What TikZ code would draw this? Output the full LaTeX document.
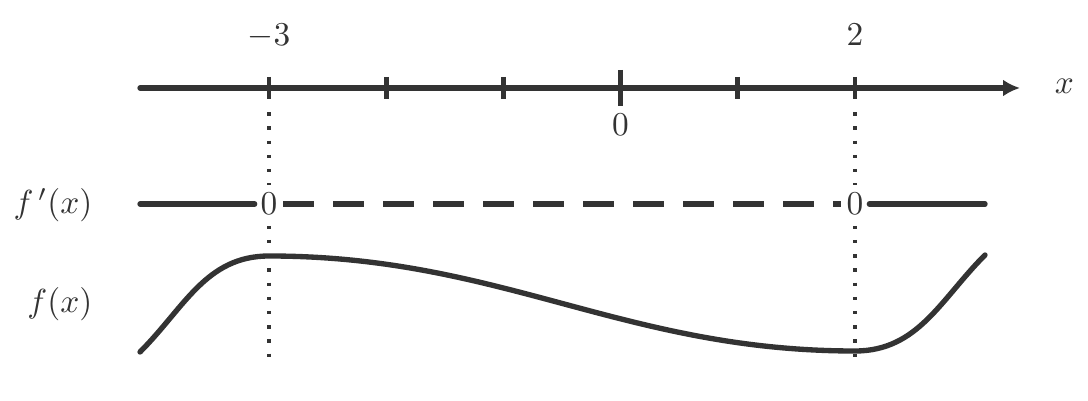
\documentclass[tikz,border=0pt]{standalone}
\usetikzlibrary{arrows.meta}
\definecolor{ink}{HTML}{333333}
\begin{document}
\begin{tikzpicture}[x=0.3pt,y=-0.3pt,
  thickline/.style={line width=1.6pt, draw=ink, line cap=round},
  tickline/.style={line width=1.4pt, draw=ink},
  dashline/.style={line width=1.6pt, draw=ink, dash pattern=on 9.2pt off 5.8pt},
  dotline/.style={line width=1pt, draw=ink, dash pattern=on 1pt off 3.26pt},
  lbl/.style={text=ink, inner sep=0pt},
  zero/.style={text=ink, fill=white, inner xsep=1.6pt, inner ysep=2.6pt}]
\useasboundingbox (0,0) rectangle (1088,401);
% coordinates
\coordinate (axL) at (140,88);
\coordinate (axR) at (1020,88);
\coordinate (tA) at (269,88);
\coordinate (tB) at (386.3,88);
\coordinate (tC) at (503.6,88);
\coordinate (tO) at (620.5,88);
\coordinate (tD) at (737.8,88);
\coordinate (tE) at (855,88);
\coordinate (dT1) at (269,112.2);
\coordinate (dB1) at (269,357);
\coordinate (dT2) at (855,112.2);
\coordinate (dB2) at (855,357);
\coordinate (fL) at (140,204);
\coordinate (fR) at (985,204);
\coordinate (c0) at (140,352);
\coordinate (c1) at (269,256);
\coordinate (c2) at (855,351);
\coordinate (c3) at (985,255);
% axis
\draw[thickline, line cap=round, -{Latex[length=5.1pt,width=5.1pt]}] (axL) -- (axR);
\foreach \t in {tA,tB,tC,tD,tE}
  \draw[tickline] ([yshift=11*0.3pt]\t) -- ([yshift=-11*0.3pt]\t);
\draw[tickline] ([yshift=18*0.3pt]tO) -- ([yshift=-18*0.3pt]tO);
% labels
\node[lbl, anchor=base] (lm3) at (269,46) {$-3$};
\node[lbl, anchor=base] (l2) at (855,46) {$2$};
\node[lbl, anchor=base] (l0) at (620.5,136) {$0$};
\node[lbl, anchor=base] (lx) at (1064.5,94) {$x$};
\node[lbl, anchor=east] (lfp) at (93,205) {$f^{\,\prime}(x)$};
\node[lbl, anchor=east] (lf) at (93,304) {$f(x)$};
% dotted guides
\draw[dotline] (dT1) -- (dB1);
\draw[dotline] (dT2) -- (dB2);
% sign line of f'
\node[zero] (z1) at (269,204) {$0$};
\node[zero] (z2) at (855,204) {$0$};
\draw[thickline] (fL) -- (z1);
\draw[dashline] (z1) -- (z2);
\draw[thickline] (z2) -- (fR);
% graph of f
\draw[thickline] (c0) .. controls (184.6,307.4) and (206,256) .. (c1)
  .. controls (502,256) and (623,351) .. (c2)
  .. controls (918,351) and (940.4,299.6) .. (c3);
\end{tikzpicture}
\end{document}
